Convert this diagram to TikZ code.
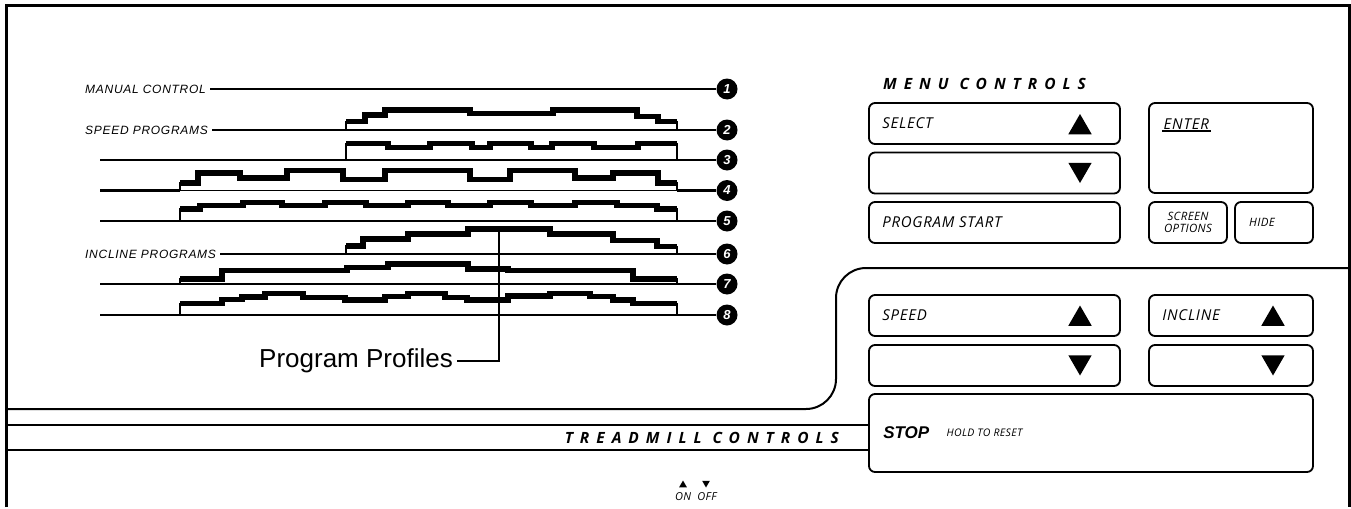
\documentclass[tikz,border=0pt]{standalone}
\usepackage{fontspec}
\usepackage{tikz}
\usetikzlibrary{shapes.geometric}
\newfontfamily\helv{Liberation Sans}
\newfontfamily\lblfont[LetterSpace=6]{Liberation Sans}
\newfontfamily\btnfont[LetterSpace=5]{Open Sans}
\newfontfamily\smfont[LetterSpace=3]{Open Sans}
\newfontfamily\hdfont[LetterSpace=45]{Open Sans}

\newcommand\profile[6]{%
  \coordinate (#1s) at (#3,#2);
  \coordinate (#1e) at (#6,#2);
  \draw[profbox] (#1s) \foreach \px/\ph in {#5}{ |- (\px,#2-\ph) } -- (#1e) -- cycle;
  \draw[profline] (#3,#2-#4) \foreach \px/\ph in {#5}{ |- (\px,#2-\ph) };
}

\tikzset{
  frame/.style={line width=3},
  panel/.style={line width=2, rounded corners=30},
  lead/.style={line width=2.8},
  profbox/.style={line width=1.4},
  profline/.style={line width=5.5, line join=miter, line cap=butt},
  lbl/.style={font=\lblfont\itshape\fontsize{12}{13}\selectfont, inner sep=4, anchor=west},
  num/.style={circle, fill=black, text=white, inner sep=0, minimum size=21,
    font=\helv\bfseries\itshape\fontsize{13}{13}\selectfont},
  btn/.style={draw, rounded corners=6, line width=1.8, inner sep=0},
  btntxt/.style={font=\btnfont\itshape\fontsize{15}{16}\selectfont, inner sep=0, anchor=west},
  smalltxt/.style={font=\smfont\itshape\fontsize{11.5}{12}\selectfont, inner sep=0, align=center},
  head/.style={font=\hdfont\bfseries\itshape\fontsize{15.5}{17}\selectfont, inner sep=0},
  tri/.style={regular polygon, regular polygon sides=3, fill=black, inner sep=0, minimum size=27},
  tridown/.style={tri, shape border rotate=180},
}

\begin{document}
\begin{tikzpicture}[x=1pt,y=-1pt]
\fill[white] (0,0) rectangle (1351,507);
\draw[frame] (6,507) -- (6,5) -- (1349,5) -- (1349,507);
\draw[panel] (1349,268) -- (836,268) -- (836,409) -- (6,409);

\node[lbl] (manual) at (81,89) {MANUAL CONTROL};
\node[num] (n1) at (727,89) {1};
\draw[lead] (manual) -- (n1);

\node[lbl] (speedprog) at (81,130) {SPEED PROGRAMS};
\profile{p2}{130}{346}{8.3}{365/8.3,385/15,470/20,553/16.7,637/20,658/13.3,677/8.3}{677}
\node[num] (n2) at (727,130) {2};
\draw[lead] (speedprog) -- (p2s);
\draw[lead] (p2e) -- (n2);

\coordinate (l3) at (100,160);
\profile{p3}{160}{346}{16.7}{388/16.7,430/12.3,472/16.7,490/12.3,531/16.7,552/12.3,594/16.7,638/12.3,677/16.7}{677}
\node[num] (n3) at (727,160) {3};
\draw[lead] (l3) -- (p3s);
\draw[lead] (p3e) -- (n3);

\coordinate (l4) at (100,190.5);
\profile{p4}{190.5}{180}{7.7}{198/7.7,240/17.7,287/12.7,343/20,385/11,470/20,510/11,575/20,613/12.7,658/17.7,677/7.7}{677}
\node[num] (n4) at (727,190.5) {4};
\draw[lead] (l4) -- (p4s);
\draw[lead] (p4e) -- (n4);

\coordinate (l5) at (100,221);
\profile{p5}{221}{180}{12}{200/12,243/15.5,282/18.5,325/15.5,366/18.5,408/15.5,448/18.5,490/15.5,531/18.5,575/15.5,617/18.5,657/15.5,677/12}{677}
\node[num] (n5) at (727,221) {5};
\draw[lead] (l5) -- (p5s);
\draw[lead] (p5e) -- (n5);

\node[lbl] (inclineprog) at (81,254) {INCLINE PROGRAMS};
\profile{p6}{254}{346}{8}{363/8,408/15,468/20,550/25,613/20,657/13.3,677/7.3}{677}
\node[num] (n6) at (727,254) {6};
\draw[lead] (inclineprog) -- (p6s);
\draw[lead] (p6e) -- (n6);

\coordinate (l7) at (100,284);
\profile{p7}{284}{180}{5}{222/5,347/13.3,388/16.7,468/20,508/15,633/13.3,677/5}{677}
\node[num] (n7) at (727,284) {7};
\draw[lead] (l7) -- (p7s);
\draw[lead] (p7e) -- (n7);

\coordinate (l8) at (100,315);
\profile{p8}{315}{180}{11.7}{222/11.7,242/15.7,265/18,303/21.7,345/17.3,385/15,408/18.3,445/21.7,467/17.7,508/15,550/19,590/21.7,613/18.3,633/15,677/11.7}{677}
\node[num] (n8) at (727,315) {8};
\draw[lead] (l8) -- (p8s);
\draw[lead] (p8e) -- (n8);

\coordinate (pp) at (499,227);
\node[font=\helv\fontsize{26}{28}\selectfont, anchor=east, inner sep=4] (pplbl) at (457,361) {Program Profiles};
\draw[line width=1.3] (pp) |- (pplbl.east);

\node[head, anchor=west] (menu) at (883,84) {MENU CONTROLS};
\node[btn, minimum width=251, minimum height=41] (select) at (994.5,123.5) {};
\node[btntxt] (selecttxt) at ([xshift=14]select.west) {SELECT};
\node[tri] (selup) at (1080,127.5) {};
\node[btn, minimum width=251, minimum height=41] (seldown) at (994.5,173) {};
\node[tridown] (seldn) at (1080,169.5) {};
\node[btn, minimum width=251, minimum height=41] (start) at (994.5,222.5) {};
\node[btntxt] (starttxt) at ([xshift=14]start.west) {PROGRAM START};
\node[btn, minimum width=164, minimum height=90] (enter) at (1231,148) {};
\node[btntxt, inner sep=1.5] (entertxt) at (1162,124) {ENTER};
\draw[line width=2.5] (entertxt.south west) -- (entertxt.south east);
\node[btn, minimum width=78, minimum height=41] (screen) at (1188,222.5) {};
\node[smalltxt] (screentxt) at (screen) {SCREEN\\OPTIONS};
\node[btn, minimum width=78, minimum height=41] (hide) at (1274,222.5) {};
\node[smalltxt] (hidetxt) at (1262,222.5) {HIDE};

\node[btn, minimum width=251, minimum height=41] (speed) at (994.5,315.5) {};
\node[btntxt] (speedtxt) at ([xshift=14]speed.west) {SPEED};
\node[tri] (spup) at (1080,319) {};
\node[btn, minimum width=251, minimum height=41] (speeddown) at (994.5,365.5) {};
\node[tridown] (spdn) at (1080,362) {};
\node[btn, minimum width=164, minimum height=41] (incline) at (1231,315.5) {};
\node[btntxt] (inclinetxt) at ([xshift=14]incline.west) {INCLINE};
\node[tri] (inup) at (1273,319) {};
\node[btn, minimum width=164, minimum height=41] (inclinedown) at (1231,365.5) {};
\node[tridown] (indn) at (1273,362) {};

\node[btn, minimum width=444, minimum height=78] (stop) at (1091,433) {};
\node[btntxt, font=\helv\bfseries\itshape\fontsize{17}{18}\selectfont] (stoptxt) at ([xshift=15]stop.west) {STOP};
\node[smalltxt, anchor=west, font=\smfont\itshape\fontsize{10.5}{10.5}\selectfont] (resettxt) at ([xshift=17]stoptxt.east) {HOLD TO RESET};

\coordinate (bandt) at (6,425);
\coordinate (bandb) at (6,450);
\draw[panel] (bandt) -- (bandt -| stop.west);
\draw[panel] (bandb) -- (bandb -| stop.west);
\node[head, anchor=east] (treadmill) at (839,437.5) {TREADMILL CONTROLS};

\node[tri, minimum size=9] (ontri) at (683,485) {};
\node[tridown, minimum size=9] (offtri) at (706,483) {};
\node[smalltxt, font=\smfont\itshape\fontsize{11}{10}\selectfont] (on) at (683,497) {ON};
\node[smalltxt, font=\smfont\itshape\fontsize{11}{10}\selectfont] (off) at (707,497) {OFF};
\end{tikzpicture}
\end{document}
